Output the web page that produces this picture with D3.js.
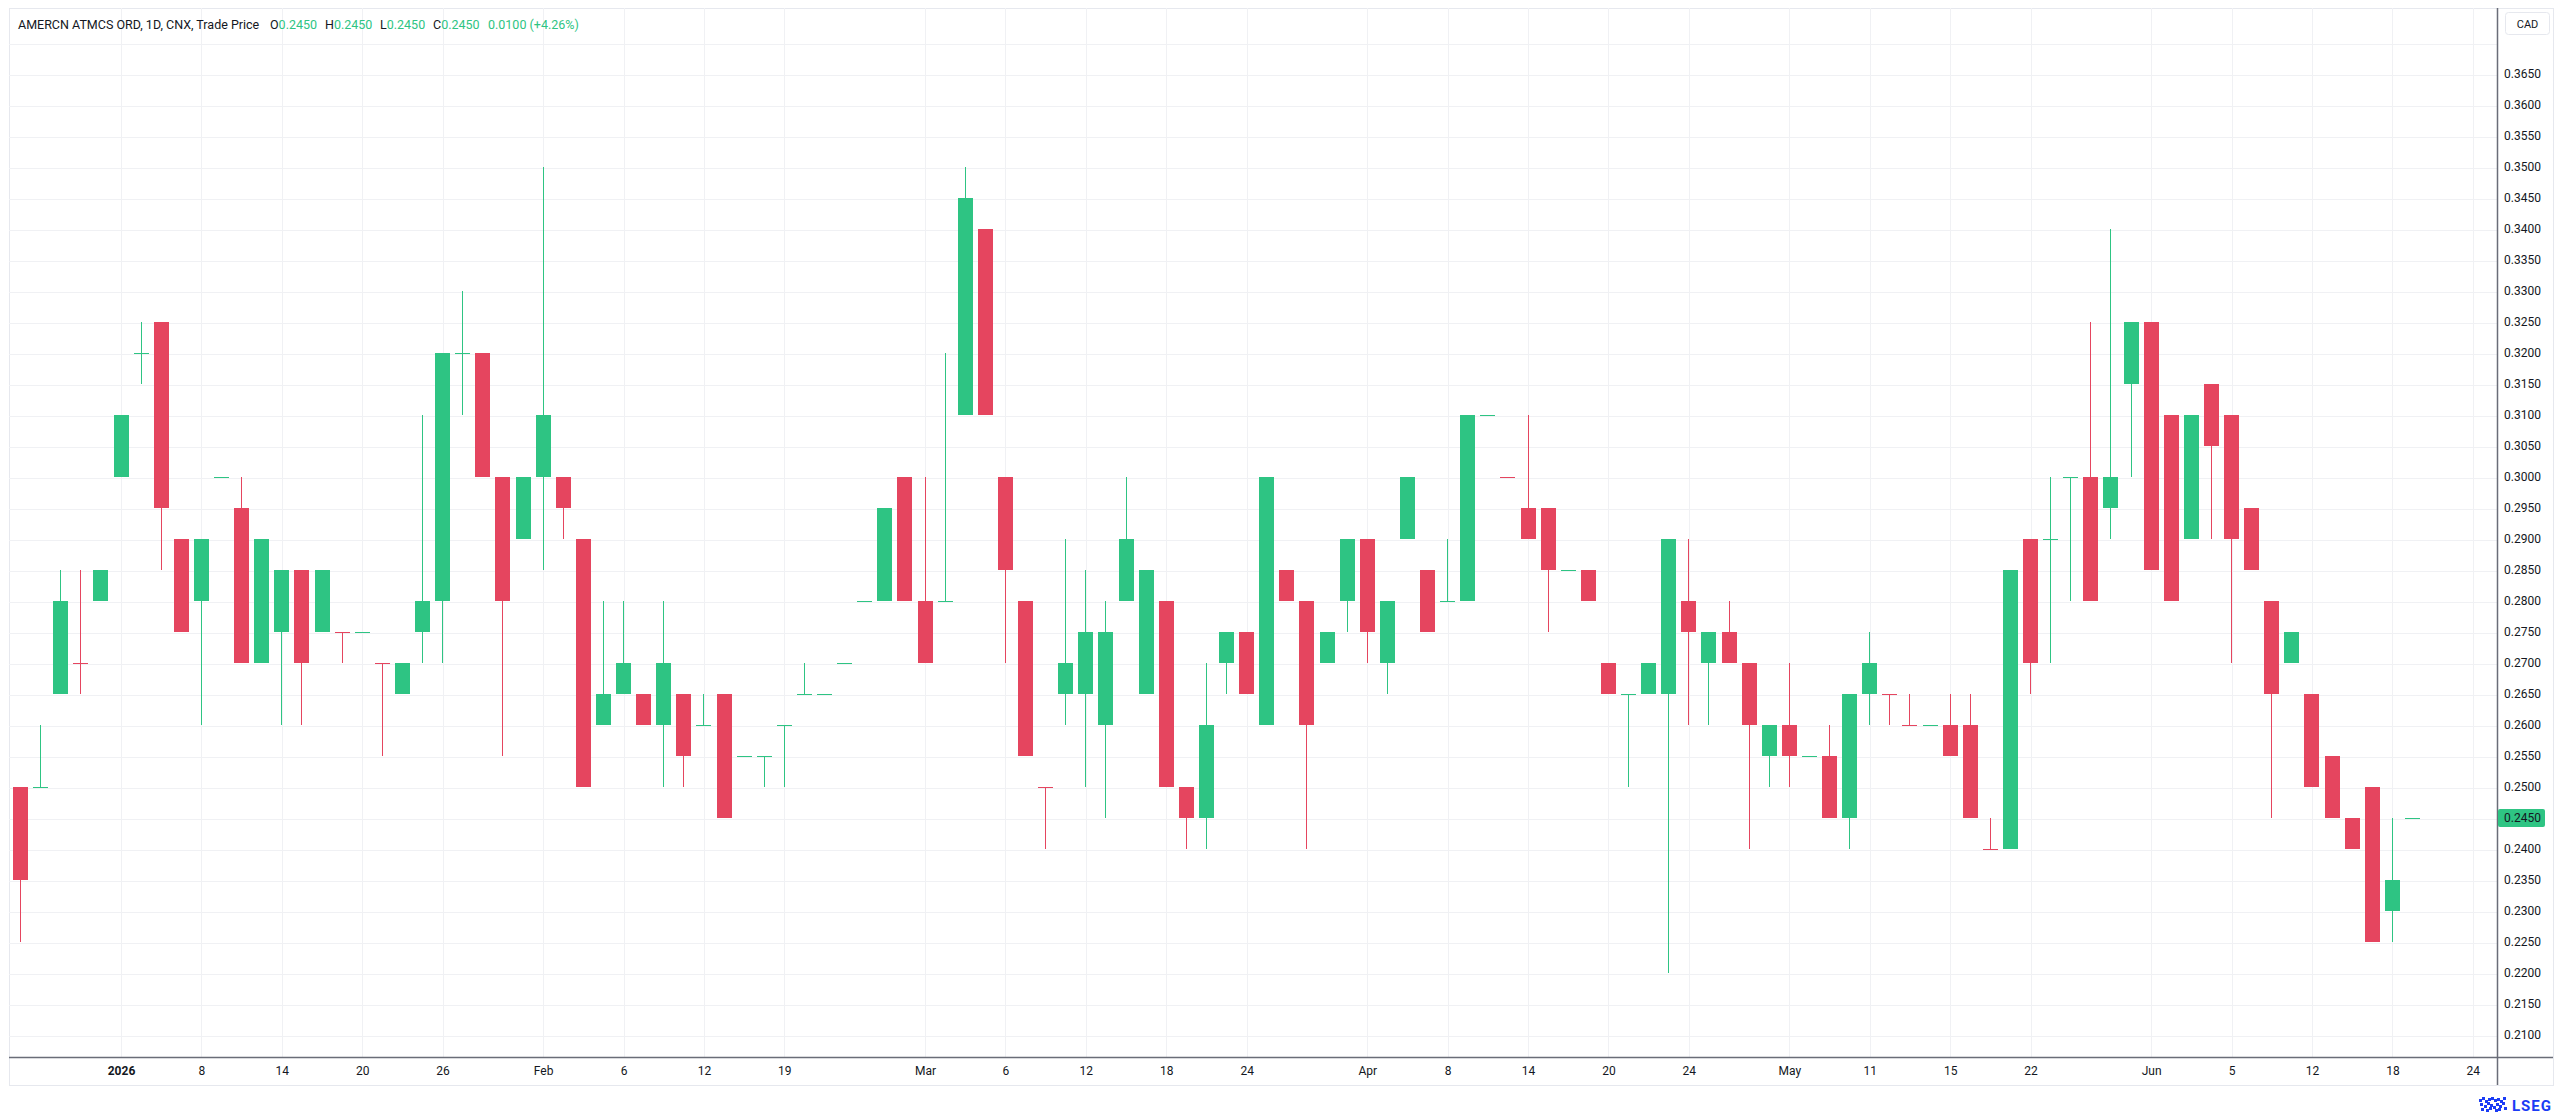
<!DOCTYPE html>
<html>
<head>
<meta charset="utf-8">
<script src="https://d3js.org/d3.v7.min.js"></script>
<style>
html, body { margin: 0; padding: 0; background: #fff; }
svg { display: block; font-family: Roboto, "Liberation Sans", sans-serif; }
</style>
</head>
<body>
<div id="chart"></div>
<script>
// daily bars (CAD)
var opens  = [0.250,0.250,0.265,0.270,0.280,0.300,0.320,0.325,0.290,0.280,
              0.300,0.295,0.270,0.275,0.285,0.275,0.275,0.275,0.270,0.265,
              0.275,0.280,0.320,0.320,0.300,0.290,0.300,0.300,0.290,0.260,
              0.265,0.265,0.260,0.265,0.260,0.265,0.255,0.255,0.260,0.265,
              0.265,0.270,0.280,0.280,0.300,0.280,0.280,0.310,0.340,0.300,
              0.280,0.250,0.265,0.265,0.260,0.280,0.265,0.280,0.250,0.245,
              0.270,0.275,0.260,0.285,0.280,0.270,0.280,0.290,0.270,0.290,
              0.285,0.280,0.280,0.310,0.300,0.295,0.295,0.285,0.285,0.270,
              0.265,0.265,0.265,0.280,0.270,0.275,0.270,0.255,0.260,0.255,
              0.255,0.245,0.265,0.265,0.260,0.260,0.260,0.260,0.240,0.240,
              0.290,0.290,0.300,0.300,0.295,0.315,0.325,0.310,0.290,0.315,
              0.310,0.295,0.280,0.270,0.265,0.255,0.245,0.250,0.230,0.245];
var highs  = [0.250,0.260,0.285,0.285,0.285,0.310,0.325,0.325,0.290,0.290,
              0.300,0.300,0.290,0.285,0.285,0.285,0.275,0.275,0.270,0.270,
              0.310,0.320,0.330,0.320,0.300,0.300,0.350,0.300,0.290,0.280,
              0.280,0.265,0.280,0.265,0.265,0.265,0.255,0.255,0.260,0.270,
              0.265,0.270,0.280,0.295,0.300,0.300,0.320,0.350,0.340,0.300,
              0.280,0.250,0.290,0.285,0.280,0.300,0.285,0.280,0.250,0.270,
              0.275,0.275,0.300,0.285,0.280,0.275,0.290,0.290,0.280,0.300,
              0.285,0.290,0.310,0.310,0.300,0.310,0.295,0.285,0.285,0.270,
              0.265,0.270,0.290,0.290,0.275,0.280,0.270,0.260,0.270,0.255,
              0.260,0.265,0.275,0.265,0.265,0.260,0.265,0.265,0.245,0.285,
              0.290,0.300,0.300,0.325,0.340,0.325,0.325,0.310,0.310,0.315,
              0.310,0.295,0.280,0.275,0.265,0.255,0.245,0.250,0.245,0.245];
var lows   = [0.225,0.250,0.265,0.265,0.280,0.300,0.315,0.285,0.275,0.260,
              0.300,0.270,0.270,0.260,0.260,0.275,0.270,0.275,0.255,0.265,
              0.270,0.270,0.310,0.300,0.255,0.290,0.285,0.290,0.250,0.260,
              0.265,0.260,0.250,0.250,0.260,0.245,0.255,0.250,0.250,0.265,
              0.265,0.270,0.280,0.280,0.280,0.270,0.280,0.310,0.310,0.270,
              0.255,0.240,0.260,0.250,0.245,0.280,0.265,0.250,0.240,0.240,
              0.265,0.265,0.260,0.280,0.240,0.270,0.275,0.270,0.265,0.290,
              0.275,0.280,0.280,0.310,0.300,0.290,0.275,0.285,0.280,0.265,
              0.250,0.265,0.220,0.260,0.260,0.270,0.240,0.250,0.250,0.255,
              0.245,0.240,0.260,0.260,0.260,0.260,0.255,0.245,0.240,0.240,
              0.265,0.270,0.280,0.280,0.290,0.300,0.285,0.280,0.290,0.290,
              0.270,0.285,0.245,0.270,0.250,0.245,0.240,0.225,0.225,0.245];
var closes = [0.235,0.250,0.280,0.270,0.285,0.310,0.320,0.295,0.275,0.290,
              0.300,0.270,0.290,0.285,0.270,0.285,0.275,0.275,0.270,0.270,
              0.280,0.320,0.320,0.300,0.280,0.300,0.310,0.295,0.250,0.265,
              0.270,0.260,0.270,0.255,0.260,0.245,0.255,0.255,0.260,0.265,
              0.265,0.270,0.280,0.295,0.280,0.270,0.280,0.345,0.310,0.285,
              0.255,0.250,0.270,0.275,0.275,0.290,0.285,0.250,0.245,0.260,
              0.275,0.265,0.300,0.280,0.260,0.275,0.290,0.275,0.280,0.300,
              0.275,0.280,0.310,0.310,0.300,0.290,0.285,0.285,0.280,0.265,
              0.265,0.270,0.290,0.275,0.275,0.270,0.260,0.260,0.255,0.255,
              0.245,0.265,0.270,0.265,0.260,0.260,0.255,0.245,0.240,0.285,
              0.270,0.290,0.300,0.280,0.300,0.325,0.285,0.280,0.310,0.305,
              0.290,0.285,0.265,0.275,0.250,0.245,0.240,0.225,0.235,0.245];

// time axis: bar index of each label
var dateTickIndex  = [5, 9, 13, 17, 21, 26, 30, 34, 38, 45, 49, 53, 57, 61,
                      67, 71, 75, 79, 83, 88, 92, 96, 100, 106, 110, 114, 118, 122];
var dateTickLabels = ["2026", "8", "14", "20", "26", "Feb", "6", "12", "19",
                      "Mar", "6", "12", "18", "24", "Apr", "8", "14", "20", "24",
                      "May", "11", "15", "22", "Jun", "5", "12", "18", "24"];

// price axis labels
var priceTicks = [0.2100, 0.2150, 0.2200, 0.2250, 0.2300, 0.2350, 0.2400, 0.2450,
                  0.2500, 0.2550, 0.2600, 0.2650, 0.2700, 0.2750, 0.2800, 0.2850,
                  0.2900, 0.2950, 0.3000, 0.3050, 0.3100, 0.3150, 0.3200, 0.3250,
                  0.3300, 0.3350, 0.3400, 0.3450, 0.3500, 0.3550, 0.3600, 0.3650];

var lastPrice = 0.2450;
var titleText = "AMERCN ATMCS ORD, 1D, CNX, Trade Price";
var ohlcNames = ["O", "H", "L", "C"];
var ohlcValues = ["0.2450", "0.2450", "0.2450", "0.2450"];
var changeText = "0.0100 (+4.26%)";

var W = 2560, H = 1115;
var upColor = "#2ec483", downColor = "#e5455f";
var textColor = "#131722", axisColor = "#6a6d78", gridColor = "#f0f1f4";

var pane = {left: 9, right: 2497, top: 8, bottom: 1057, axisBottom: 1085, outerRight: 2553};
// x positions of the legend pieces (O, H, L, C, change)
var legendX = [270, 325, 380, 433, 488];

var bars = opens.map(function(o, i){
    var c = closes[i];
    var up;
    if (c > o) up = true;
    else if (c < o) up = false;
    else up = i === 0 ? true : c >= closes[i - 1];
    return {i: i, o: o, h: highs[i], l: lows[i], c: c, up: up};
});

var x = d3.scaleLinear().domain([0, 119]).range([20, 2412]);
var y = d3.scaleLinear().domain([0.21, 0.365]).range([1035, 74]);

var svg = d3.select("#chart").append("svg")
    .attr("width", W)
    .attr("height", H);

svg.append("rect")
    .attr("width", W).attr("height", H)
    .attr("fill", "#fff");

// outer frame
svg.append("rect")
    .attr("x", pane.left + 0.5).attr("y", pane.top + 0.5)
    .attr("width", pane.outerRight - pane.left).attr("height", pane.axisBottom - pane.top)
    .attr("fill", "none")
    .attr("stroke", "#e6e8ee");

//grid lines
var gridY = d3.axisLeft(y)
    .tickValues(priceTicks.concat([0.3700]))
    .tickSize(-(pane.right - pane.left))
    .tickFormat("");
svg.append("g")
    .attr("class", "grid")
    .attr("transform", "translate(" + pane.left + ",0.5)")
    .call(gridY);

var gridX = d3.axisBottom(x)
    .tickValues(dateTickIndex)
    .tickSize(-(pane.bottom - pane.top))
    .tickFormat("");
svg.append("g")
    .attr("class", "grid")
    .attr("transform", "translate(0.5," + pane.bottom + ")")
    .call(gridX);

svg.selectAll(".grid .domain").remove();
svg.selectAll(".grid line")
    .attr("stroke", gridColor)
    .attr("stroke-width", 1)
    .attr("shape-rendering", "crispEdges");

// candles
var candles = svg.append("g").attr("class", "candles");

candles.selectAll(".wick")
    .data(bars)
    .enter().append("rect")
    .attr("class", "wick")
    .attr("x", function(d){ return Math.round(x(d.i)); })
    .attr("y", function(d){ return Math.round(y(d.h)); })
    .attr("width", 1)
    .attr("height", function(d){ return Math.max(1, Math.round(y(d.l)) - Math.round(y(d.h))); })
    .attr("fill", function(d){ return d.up ? upColor : downColor; });

candles.selectAll(".body")
    .data(bars)
    .enter().append("rect")
    .attr("class", "body")
    .attr("x", function(d){ return Math.round(x(d.i)) - 7; })
    .attr("y", function(d){ return Math.round(y(Math.max(d.o, d.c))); })
    .attr("width", 15)
    .attr("height", function(d){
        return Math.max(1, Math.round(y(Math.min(d.o, d.c))) - Math.round(y(Math.max(d.o, d.c))));
    })
    .attr("fill", function(d){ return d.up ? upColor : downColor; });

// axis lines
svg.append("line")
    .attr("x1", pane.left).attr("x2", pane.outerRight)
    .attr("y1", pane.bottom + 0.5).attr("y2", pane.bottom + 0.5)
    .attr("stroke", axisColor).attr("stroke-width", 1.5);
svg.append("line")
    .attr("x1", pane.right + 0.5).attr("x2", pane.right + 0.5)
    .attr("y1", pane.top).attr("y2", pane.axisBottom)
    .attr("stroke", axisColor).attr("stroke-width", 1.5);

// price axis
var yAxis = d3.axisRight(y)
    .tickValues(priceTicks)
    .tickSize(0)
    .tickPadding(7)
    .tickFormat(d3.format(".4f"));
var yAxisG = svg.append("g")
    .attr("transform", "translate(" + pane.right + ",0)")
    .call(yAxis);
yAxisG.select(".domain").remove();
yAxisG.selectAll("text")
    .attr("fill", textColor)
    .style("font-size", "12px")
    .style("font-family", "Roboto, sans-serif");

// time axis
var xAxis = d3.axisBottom(x)
    .tickValues(dateTickIndex)
    .tickSize(0)
    .tickPadding(9)
    .tickFormat(function(d, i){ return dateTickLabels[i]; });
var xAxisG = svg.append("g")
    .attr("transform", "translate(0.5," + pane.bottom + ")")
    .call(xAxis);
xAxisG.select(".domain").remove();
xAxisG.selectAll("text")
    .attr("fill", textColor)
    .style("font-size", "12px")
    .style("font-family", "Roboto, sans-serif")
    .style("font-weight", function(d, i){ return dateTickLabels[i] === "2026" ? 700 : 400; });

// last price label
var lastY = y(lastPrice);
svg.append("rect")
    .attr("x", pane.right + 1).attr("y", Math.round(lastY) - 9)
    .attr("width", 47).attr("height", 18)
    .attr("rx", 2)
    .attr("fill", upColor);
svg.append("text")
    .attr("x", pane.right + 7).attr("y", lastY)
    .attr("dy", "0.32em")
    .attr("fill", textColor)
    .style("font-size", "12px")
    .text(d3.format(".4f")(lastPrice));

// currency box
svg.append("rect")
    .attr("x", 2505.5).attr("y", 12.5)
    .attr("width", 44).attr("height", 22)
    .attr("rx", 3)
    .attr("fill", "#fff")
    .attr("stroke", "#e6e8ee");
svg.append("text")
    .attr("x", 2527.5).attr("y", 24)
    .attr("dy", "0.35em")
    .attr("text-anchor", "middle")
    .attr("fill", textColor)
    .style("font-size", "11px")
    .text("CAD");

// legend line at the top
var legend = svg.append("g").style("font-size", "12.5px");
legend.append("text")
    .attr("x", 18).attr("y", 25).attr("dy", "0.35em")
    .attr("fill", textColor)
    .text(titleText);
ohlcNames.forEach(function(n, i){
    var t = legend.append("text")
        .attr("x", legendX[i]).attr("y", 25).attr("dy", "0.35em");
    t.append("tspan").attr("fill", textColor).text(n);
    t.append("tspan").attr("fill", upColor).text(ohlcValues[i]);
});
legend.append("text")
    .attr("x", legendX[4]).attr("y", 25).attr("dy", "0.35em")
    .attr("fill", upColor)
    .text(changeText);

// provider mark, bottom right
var logo = svg.append("g").attr("transform", "translate(2479,1097)");
var cells = [[0,2],[3,0],[6,3],[9,1],[12,0],[15,2],[18,1],[21,3],[24,0],
             [1,6],[5,8],[8,5],[11,7],[14,9],[17,6],[20,8],[23,5],
             [2,11],[7,12],[10,10],[16,12],[19,11],[25,10]];
logo.selectAll("rect")
    .data(cells)
    .enter().append("rect")
    .attr("x", function(d){ return d[0]; })
    .attr("y", function(d){ return d[1]; })
    .attr("width", 3).attr("height", 3)
    .attr("fill", "#1b3cf5");
svg.append("text")
    .attr("x", 2512).attr("y", 1111)
    .attr("fill", "#1b3cf5")
    .style("font-size", "15px")
    .style("font-weight", 700)
    .style("letter-spacing", "1px")
    .text("LSEG");
</script>
</body>
</html>
